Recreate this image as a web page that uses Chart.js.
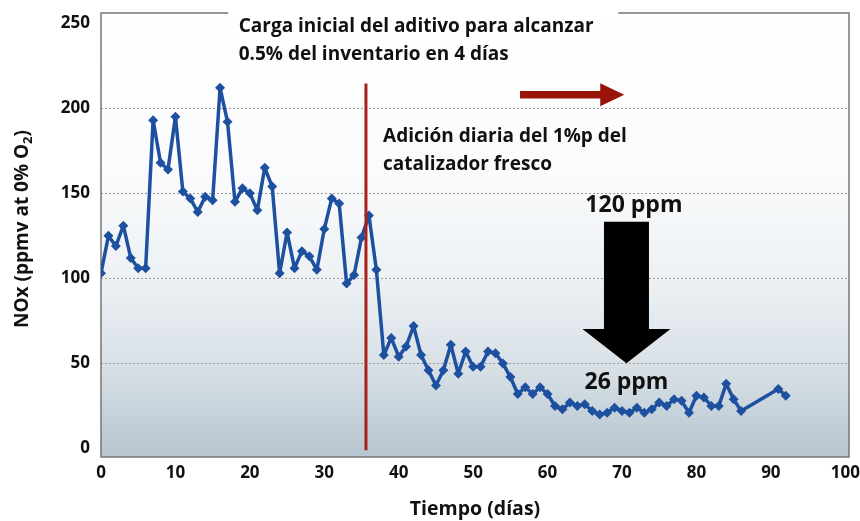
<!DOCTYPE html>
<html lang="es">
<head>
    <meta charset="UTF-8">
    <title>NOx vs Tiempo</title>
    <script src="https://cdn.jsdelivr.net/npm/chart.js"></script>
    <style>
        html, body {
            margin: 0;
            padding: 0;
            background: #ffffff;
        }
        .wrap {
            width: 860px;
            height: 521px;
        }
    </style>
</head>
<body>
    <div class="wrap"><canvas id="noxChart" width="860" height="521"></canvas></div>

    <script>
        // days and NOx readings (ppmv at 0% O2)
        const days = [
            0, 1, 2, 3, 4, 5, 6, 7, 8, 9, 10, 11, 12, 13, 14, 15, 16, 17, 18, 19,
            20, 21, 22, 23, 24, 25, 26, 27, 28, 29, 30, 31, 32, 33, 34, 35, 36, 37, 38, 39,
            40, 41, 42, 43, 44, 45, 46, 47, 48, 49, 50, 51, 52, 53, 54, 55, 56, 57, 58, 59,
            60, 61, 62, 63, 64, 65, 66, 67, 68, 69, 70, 71, 72, 73, 74, 75, 76, 77, 78, 79,
            80, 81, 82, 83, 84, 85, 86, 91, 92
        ];
        const nox = [
            103, 125, 119, 131, 112, 106, 106, 193, 168, 164, 195, 151, 147, 139, 148, 146, 212, 192, 145, 153,
            150, 140, 165, 154, 103, 127, 106, 116, 113, 105, 129, 147, 144, 97, 102, 124, 137, 105, 55, 65,
            54, 60, 72, 55, 46, 37, 46, 61, 44, 57, 48, 48, 57, 56, 50, 42, 32, 36, 32, 36,
            32, 25, 23, 27, 25, 26, 22, 20, 21, 24, 22, 21, 24, 21, 23, 27, 25, 29, 28, 21,
            31, 30, 25, 25, 38, 29, 22, 35, 31
        ];
        const xTicks = [0, 10, 20, 30, 40, 50, 60, 70, 80, 90, 100];
        const yTicks = [0, 50, 100, 150, 200, 250];
        const gridValues = [50, 100, 150, 200];

        const FONT = "'Open Sans', Lato, sans-serif";
        const INK = '#111111';

        const points = days.map((d, i) => ({ x: d, y: nox[i] }));

        // plot background gradient + frame
        const backdrop = {
            id: 'backdrop',
            beforeDraw(chart) {
                const { ctx, chartArea: a } = chart;
                const g = ctx.createLinearGradient(0, a.top, 0, a.bottom);
                g.addColorStop(0, '#ffffff');
                g.addColorStop(0.35, '#fafbfc');
                g.addColorStop(0.6, '#edf1f4');
                g.addColorStop(0.8, '#d8e0e6');
                g.addColorStop(1, '#b6c5d0');
                ctx.save();
                ctx.fillStyle = g;
                ctx.fillRect(a.left, a.top, a.right - a.left, a.bottom - a.top);
                ctx.restore();
            },
            beforeDatasetsDraw(chart) {
                const { ctx, chartArea: a } = chart;
                ctx.save();
                ctx.strokeStyle = '#767676';
                ctx.lineWidth = 1.5;
                ctx.strokeRect(a.left, a.top, a.right - a.left, a.bottom - a.top);
                ctx.restore();
            }
        };

        function arrowRight(ctx, x0, x1, y, shaft, headLen, headH) {
            ctx.beginPath();
            ctx.moveTo(x0, y - shaft / 2);
            ctx.lineTo(x1 - headLen, y - shaft / 2);
            ctx.lineTo(x1 - headLen, y - headH / 2);
            ctx.lineTo(x1, y);
            ctx.lineTo(x1 - headLen, y + headH / 2);
            ctx.lineTo(x1 - headLen, y + shaft / 2);
            ctx.lineTo(x0, y + shaft / 2);
            ctx.closePath();
            ctx.fill();
        }

        function arrowDown(ctx, cx, y0, yBase, yTip, shaftW, headW) {
            ctx.beginPath();
            ctx.moveTo(cx - shaftW / 2, y0);
            ctx.lineTo(cx + shaftW / 2, y0);
            ctx.lineTo(cx + shaftW / 2, yBase);
            ctx.lineTo(cx + headW / 2, yBase);
            ctx.lineTo(cx, yTip);
            ctx.lineTo(cx - headW / 2, yBase);
            ctx.lineTo(cx - shaftW / 2, yBase);
            ctx.closePath();
            ctx.fill();
        }

        const notes = {
            id: 'notes',
            afterDatasetsDraw(chart) {
                const { ctx, scales: { x, y } } = chart;
                ctx.save();
                // start of the daily addition
                ctx.strokeStyle = '#a8201a';
                ctx.lineWidth = 3;
                ctx.beginPath();
                ctx.moveTo(x.getPixelForValue(35.6), y.getPixelForValue(214.5));
                ctx.lineTo(x.getPixelForValue(35.6), y.getPixelForValue(-1));
                ctx.stroke();

                ctx.fillStyle = '#991408';
                arrowRight(ctx, x.getPixelForValue(56.3), x.getPixelForValue(70.3), y.getPixelForValue(208),
                    7.5, 24, 23);

                ctx.fillStyle = '#000000';
                arrowDown(ctx, x.getPixelForValue(70.6), y.getPixelForValue(133.3), y.getPixelForValue(70.2),
                    y.getPixelForValue(50.1), 45, 88);
                ctx.restore();
            },
            afterDraw(chart) {
                const { ctx, chartArea: a, scales: { x, y } } = chart;
                ctx.save();
                // white box behind the top note
                ctx.fillStyle = '#ffffff';
                ctx.fillRect(x.getPixelForValue(17.1), 0, x.getPixelForValue(69.5) - x.getPixelForValue(17.1), a.top + 4);

                ctx.fillStyle = INK;
                ctx.textBaseline = 'middle';
                ctx.textAlign = 'left';
                ctx.font = 'bold 19px ' + FONT;
                ctx.fillText('Carga inicial del aditivo para alcanzar', x.getPixelForValue(18.5), y.getPixelForValue(247.8));
                ctx.fillText('0.5% del inventario en 4 días', x.getPixelForValue(18.5), y.getPixelForValue(231.3));
                ctx.fillText('Adición diaria del 1%p del', x.getPixelForValue(37.9), y.getPixelForValue(183.1));
                ctx.fillText('catalizador fresco', x.getPixelForValue(37.9), y.getPixelForValue(166.7));

                ctx.textAlign = 'center';
                ctx.font = 'bold 23px ' + FONT;
                ctx.fillText('120 ppm', x.getPixelForValue(71.6), y.getPixelForValue(143.1));
                ctx.fillText('26 ppm', x.getPixelForValue(70.6), y.getPixelForValue(39.1));

                // y axis title with subscript
                const main = 'NOx (ppmv at 0% O';
                ctx.font = 'bold 19px ' + FONT;
                const w1 = ctx.measureText(main).width;
                const w3 = ctx.measureText(')').width;
                ctx.font = 'bold 13px ' + FONT;
                const w2 = ctx.measureText('2').width;
                const total = w1 + w2 + w3;
                ctx.translate(23, (a.top + a.bottom) / 2 - 6);
                ctx.rotate(-Math.PI / 2);
                ctx.textAlign = 'left';
                ctx.font = 'bold 19px ' + FONT;
                ctx.fillText(main, -total / 2, 0);
                ctx.font = 'bold 13px ' + FONT;
                ctx.fillText('2', -total / 2 + w1, 5);
                ctx.font = 'bold 19px ' + FONT;
                ctx.fillText(')', -total / 2 + w1 + w2, 0);
                ctx.restore();
            }
        };

        new Chart(document.getElementById('noxChart'), {
            type: 'line',
            data: {
                datasets: [{
                    label: 'NOx',
                    data: points,
                    borderColor: '#1e50a0',
                    backgroundColor: '#1e50a0',
                    borderWidth: 3.5,
                    borderJoinStyle: 'round',
                    borderCapStyle: 'round',
                    pointStyle: 'rectRot',
                    pointRadius: 5,
                    pointBorderWidth: 0,
                    tension: 0
                }]
            },
            options: {
                responsive: false,
                animation: false,
                layout: { padding: { top: 13, right: 11, bottom: 0, left: 0 } },
                plugins: {
                    legend: { display: false },
                    tooltip: { enabled: false }
                },
                scales: {
                    x: {
                        type: 'linear',
                        min: 0,
                        max: 100.5,
                        afterBuildTicks: s => { s.ticks = xTicks.map(v => ({ value: v })); },
                        afterFit: s => { s.height = 64; s.paddingLeft = 0; s.paddingRight = 0; },
                        grid: { display: false, drawTicks: false },
                        border: { display: false },
                        ticks: {
                            padding: 6,
                            color: INK,
                            font: { family: FONT, size: 17, weight: 'bold' }
                        },
                        title: {
                            display: true,
                            text: 'Tiempo (días)',
                            color: INK,
                            font: { family: FONT, size: 19.5, weight: 'bold', lineHeight: 1.2 },
                            padding: { top: 0, bottom: 0 }
                        }
                    },
                    y: {
                        min: -5,
                        max: 256,
                        afterBuildTicks: s => { s.ticks = yTicks.map(v => ({ value: v })); },
                        afterFit: s => { s.width = 101; s.paddingTop = 0; s.paddingBottom = 0; },
                        grid: {
                            drawTicks: false,
                            lineWidth: 1,
                            color: c => gridValues.includes(c.tick && c.tick.value) ? '#9a9a9a' : 'rgba(0,0,0,0)'
                        },
                        border: { display: false, dash: [2, 2] },
                        ticks: {
                            padding: 11,
                            color: INK,
                            font: { family: FONT, size: 17, weight: 'bold' }
                        }
                    }
                }
            },
            plugins: [backdrop, notes]
        });
    </script>
</body>
</html>
